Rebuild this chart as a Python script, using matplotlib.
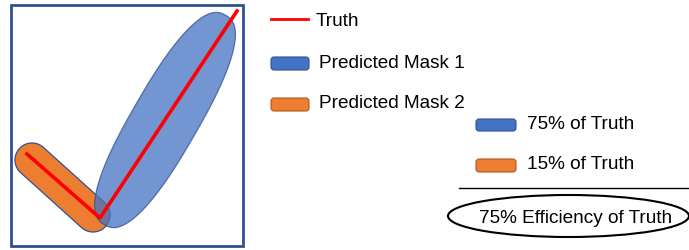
import numpy as np
import matplotlib.pyplot as plt
from matplotlib.patches import Polygon, Rectangle, FancyBboxPatch, Ellipse

# diagram data (pixel space of a 689x251 canvas)
truth_x = [27, 100, 237]
truth_y = [155, 219, 12]
mask1_center = (165, 121)   # blue blob
mask1_half_len = 121
mask1_half_wid = 33
mask1_dir = (0.50, -0.865)
mask2_axis = [(32, 161), (93, 216)]    # orange capsule ends
mask2_radius = 17

legend_labels = ['Truth', 'Predicted Mask 1', 'Predicted Mask 2']
share_labels = ['75% of Truth', '15% of Truth']
result_label = '75% Efficiency of Truth'

BLUE = '#4472C4'
ORANGE = '#ED7D31'
EDGE = '#2F528F'

plt.rcParams['font.family'] = ['Liberation Sans', 'DejaVu Sans']


def capsule(p0, p1, r, n=40):
    # stadium outline around the segment p0-p1
    p0 = np.array(p0, float)
    p1 = np.array(p1, float)
    d = p1 - p0
    ang = np.arctan2(d[1], d[0])
    a1 = np.linspace(ang - np.pi / 2, ang + np.pi / 2, n)
    a0 = np.linspace(ang + np.pi / 2, ang + 3 * np.pi / 2, n)
    pts1 = p1 + r * np.c_[np.cos(a1), np.sin(a1)]
    pts0 = p0 + r * np.c_[np.cos(a0), np.sin(a0)]
    return np.vstack([pts1, pts0])


def superellipse(c, a, b, direc, p=2.5, n=200):
    t = np.linspace(0, 2 * np.pi, n)
    u = a * np.sign(np.cos(t)) * np.abs(np.cos(t)) ** (2 / p)
    v = b * np.sign(np.sin(t)) * np.abs(np.sin(t)) ** (2 / p)
    ex = np.array(direc, float)
    ex /= np.hypot(*ex)
    ey = np.array([-ex[1], ex[0]])
    return np.array(c) + np.outer(u, ex) + np.outer(v, ey)


fig = plt.figure(figsize=(6.89, 2.51), dpi=100)
ax = fig.add_axes([0, 0, 1, 1])
ax.set_xlim(0, 689)
ax.set_ylim(251, 0)
ax.axis('off')

# frame
ax.add_patch(Rectangle((11, 6), 232, 241, fill=False, ec=EDGE, lw=2))

# masks
ax.add_patch(Polygon(capsule(*mask2_axis, mask2_radius), closed=True,
                     fc=ORANGE, ec=EDGE, lw=0.9, zorder=2))
ax.add_patch(Polygon(superellipse(mask1_center, mask1_half_len, mask1_half_wid, mask1_dir),
                     closed=True, fc=BLUE, alpha=0.75, ec=EDGE, lw=0.9, zorder=3))
ax.plot(truth_x, truth_y, color='red', lw=2.6, zorder=4)

# left legend
fs = 13.7
ax.plot([271, 308], [20, 20], color='red', lw=2)
ax.text(316, 21.5, legend_labels[0], fontsize=fs, va='center')
ax.add_patch(FancyBboxPatch((271, 58), 38, 13, boxstyle='round,pad=0,rounding_size=3',
                            fc=BLUE, ec=EDGE, lw=0.8))
ax.text(319, 63.5, legend_labels[1], fontsize=fs, va='center')
ax.add_patch(FancyBboxPatch((271, 99), 38, 13, boxstyle='round,pad=0,rounding_size=3',
                            fc=ORANGE, ec='#AE5A21', lw=0.8))
ax.text(319, 103.5, legend_labels[2], fontsize=fs, va='center')

# right legend
ax.add_patch(FancyBboxPatch((476, 120), 40, 12, boxstyle='round,pad=0,rounding_size=3',
                            fc=BLUE, ec=EDGE, lw=0.8))
ax.text(527, 124.5, share_labels[0], fontsize=fs, va='center')
ax.add_patch(FancyBboxPatch((476, 160), 40, 13, boxstyle='round,pad=0,rounding_size=3',
                            fc=ORANGE, ec='#AE5A21', lw=0.8))
ax.text(527, 164.5, share_labels[1], fontsize=fs, va='center')

ax.plot([459, 689], [189, 189], color='black', lw=1)
ax.add_patch(Ellipse((568.5, 217), 241, 42, fill=False, ec='black', lw=1.5))
ax.text(479, 218.5, result_label, fontsize=fs, va='center')

fig.savefig('out.png', dpi=100)
